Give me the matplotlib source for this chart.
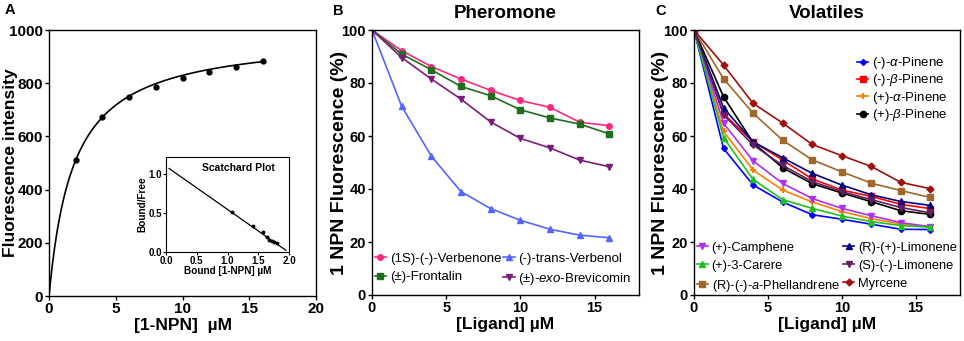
import numpy as np
import matplotlib
matplotlib.use("Agg")
import matplotlib.pyplot as plt

plt.rcParams['font.family'] = ['Liberation Sans', 'DejaVu Sans']
plt.rcParams['mathtext.fontset'] = 'custom'
plt.rcParams['mathtext.rm'] = 'Liberation Sans'
plt.rcParams['mathtext.it'] = 'Liberation Sans:italic'
plt.rcParams['mathtext.bf'] = 'Liberation Sans:bold'

# ---------------- Data ----------------
# Panel A: saturation binding
npn_conc = [2, 4, 6, 8, 10, 12, 14, 16]
npn_fluor = [511, 674, 749, 787, 818, 843, 862, 882]
fit_bmax = 983.0
fit_kd = 1.85

# Inset: Scatchard
scat_bound = [1.08, 1.41, 1.57, 1.64, 1.68, 1.72, 1.76, 1.81]
scat_bf = [0.52, 0.34, 0.26, 0.19, 0.16, 0.14, 0.13, 0.11]
scat_slope = -0.553
scat_intercept = 1.10
scat_range = [0.05, 1.95]

# Panel B / C: ligand concentrations
ligand = [0, 2, 4, 6, 8, 10, 12, 14, 16]

verbenone = [100, 92.2, 86.2, 81.5, 77.2, 73.4, 70.8, 65.2, 63.9]
frontalin = [100, 90.9, 85.0, 78.7, 75.2, 69.9, 66.8, 64.5, 60.8]
verbenol = [100, 71.2, 52.4, 39.0, 32.6, 28.2, 24.8, 22.6, 21.6]
brevicomin = [100, 89.6, 81.5, 73.9, 65.3, 59.1, 55.5, 50.9, 48.4]

a_pinene_m = [100, 55.3, 41.5, 35.1, 30.3, 28.6, 26.7, 24.8, 24.7]
b_pinene_m = [100, 68.3, 57.9, 50.9, 43.8, 39.6, 37.2, 34.2, 32.6]
a_pinene_p = [100, 61.7, 47.1, 39.6, 35.1, 31.5, 28.8, 26.8, 25.6]
b_pinene_p = [100, 74.8, 57.5, 48.0, 42.0, 38.5, 35.2, 31.8, 30.4]
camphene = [100, 64.8, 50.6, 42.1, 36.4, 32.7, 29.9, 27.3, 25.8]
carere = [100, 59.4, 43.6, 36.0, 32.7, 29.8, 27.7, 26.2, 25.6]
phellandrene = [100, 81.6, 68.6, 58.4, 51.0, 46.5, 42.2, 39.4, 36.8]
r_limonene = [100, 70.6, 57.8, 51.8, 45.9, 41.5, 37.8, 35.3, 33.8]
s_limonene = [100, 68.0, 56.6, 48.9, 42.8, 39.0, 36.0, 33.0, 31.0]
myrcene = [100, 86.8, 72.3, 64.9, 56.8, 52.6, 48.5, 42.5, 40.1]

W, H = 964, 341
fig = plt.figure(figsize=(W / 100, H / 100), dpi=100)


def px_axes(left, top, right, bottom):
    return fig.add_axes([left / W, (H - bottom) / H, (right - left) / W, (bottom - top) / H])


def style(ax, tick_size=10.5, lw=1.0):
    for s in ax.spines.values():
        s.set_linewidth(lw)
    ax.tick_params(direction='out', length=3, width=lw, labelsize=tick_size, pad=1.5)
    for lab in ax.get_xticklabels() + ax.get_yticklabels():
        lab.set_fontweight('bold')


LEG = dict(frameon=False, fontsize=9.5, handlelength=0.85, handletextpad=0.3,
           borderpad=0, borderaxespad=0)

# ---------------- Panel A ----------------
axA = px_axes(49, 30, 316, 296)
xs = np.linspace(0, 16, 300)
axA.plot(xs, fit_bmax * xs / (fit_kd + xs), color='black', lw=1.2)
axA.plot(npn_conc, npn_fluor, 'o', color='black', ms=3.5)
axA.set_xlim(0, 20)
axA.set_ylim(0, 1000)
axA.set_xticks([0, 5, 10, 15, 20])
axA.set_yticks([0, 200, 400, 600, 800, 1000])
axA.set_xlabel('[1-NPN]  µM', fontsize=12.5, fontweight='bold', labelpad=1)
axA.set_ylabel('Fluorescence intensity', fontsize=12.5, fontweight='bold')
axA.yaxis.set_label_coords(-0.117, 0.5)
style(axA, tick_size=11)

axI = px_axes(166, 157, 289, 252)
xl = np.array(scat_range)
axI.plot(xl, scat_slope * xl + scat_intercept, color='black', lw=0.9)
axI.plot(scat_bound, scat_bf, 'o', color='black', ms=1.8)
axI.set_xlim(0, 2.0)
axI.set_ylim(0, 1.22)
axI.set_xticks([0.0, 0.5, 1.0, 1.5, 2.0])
axI.set_yticks([0.0, 0.5, 1.0])
axI.xaxis.set_major_formatter(matplotlib.ticker.FormatStrFormatter('%.1f'))
axI.yaxis.set_major_formatter(matplotlib.ticker.FormatStrFormatter('%.1f'))
axI.set_xlabel('Bound [1-NPN] µM', fontsize=7.2, fontweight='bold', labelpad=0)
axI.set_ylabel('Bound/Free', fontsize=7.2, fontweight='bold', labelpad=1)
axI.text(0.59, 0.88, 'Scatchard Plot', transform=axI.transAxes, ha='center', va='center',
         fontsize=7.5, fontweight='bold')
style(axI, tick_size=7, lw=0.8)
axI.tick_params(length=2, pad=1)

# ---------------- Panel B ----------------
axB = px_axes(372, 30, 639, 295)
b_series = [
    (verbenone, '(1S)-(-)-Verbenone', '#FF2A7F', 'o', 4),
    (frontalin, '(±)-Frontalin', '#1E6E1E', 's', 4),
    (verbenol, '(-)-trans-Verbenol', '#5566FF', '^', 4),
    (brevicomin, r'(±)-$\it{exo}$-Brevicomin', '#7A1E7A', 'v', 4),
]
for y, lab, c, m, ms in b_series:
    axB.plot(ligand, y, color=c, marker=m, ms=ms, lw=1.2, label=lab)
axB.set_xlim(0, 18)
axB.set_ylim(0, 100)
axB.set_xticks([0, 5, 10, 15])
axB.set_yticks([0, 20, 40, 60, 80, 100])
axB.set_xlabel('[Ligand] µM', fontsize=12.5, fontweight='bold', labelpad=1)
axB.set_ylabel('1 NPN Fluorescence (%)', fontsize=14, fontweight='bold')
axB.yaxis.set_label_coords(-0.09, 0.5)
axB.set_title('Pheromone', fontsize=13.5, fontweight='bold', pad=9)
style(axB)
axB.legend(loc='lower left', bbox_to_anchor=(0.01, 0.03), ncol=2, columnspacing=0.15,
           labelspacing=0.45, **LEG)

# ---------------- Panel C ----------------
axC = px_axes(694, 30, 960, 295)
c_top = [
    (a_pinene_m, r'(-)-$\it{\alpha}$-Pinene', '#0000FF', 'D', 3),
    (b_pinene_m, r'(-)-$\it{\beta}$-Pinene', '#FF0000', 's', 4),
    (a_pinene_p, r'(+)-$\it{\alpha}$-Pinene', '#FF8000', '+', 4),
    (b_pinene_p, r'(+)-$\it{\beta}$-Pinene', '#000000', 'o', 4.5),
]
c_bottom = [
    (camphene, '(+)-Camphene', '#B030F0', 'v', 4),
    (carere, '(+)-3-Carere', '#20C020', '^', 4),
    (phellandrene, r'(R)-(-)-$\it{a}$-Phellandrene', '#A0672A', 's', 5),
    (r_limonene, '(R)-(+)-Limonene', '#000080', '^', 4),
    (s_limonene, '(S)-(-)-Limonene', '#602060', 'v', 4),
    (myrcene, 'Myrcene', '#A01010', 'D', 3.5),
]
top_handles = []
bottom_handles = []
for y, lab, c, m, ms in c_top:
    h, = axC.plot(ligand, y, color=c, marker=m, ms=ms, lw=1.2, mew=1.5 if m == '+' else 1, label=lab)
    top_handles.append(h)
for y, lab, c, m, ms in c_bottom:
    h, = axC.plot(ligand, y, color=c, marker=m, ms=ms, lw=1.2, label=lab)
    bottom_handles.append(h)
axC.set_xlim(0, 18)
axC.set_ylim(0, 100)
axC.set_xticks([0, 5, 10, 15])
axC.set_yticks([0, 20, 40, 60, 80, 100])
axC.set_xlabel('[Ligand] µM', fontsize=12.5, fontweight='bold', labelpad=1)
axC.set_ylabel('1 NPN Fluorescence (%)', fontsize=14, fontweight='bold')
axC.yaxis.set_label_coords(-0.094, 0.5)
axC.set_title('Volatiles', fontsize=13.5, fontweight='bold', pad=9)
style(axC)
leg1 = axC.legend(handles=top_handles, loc='upper right', bbox_to_anchor=(0.955, 0.905),
                  labelspacing=0.1, **LEG)
axC.add_artist(leg1)
axC.legend(handles=bottom_handles, loc='lower left', bbox_to_anchor=(0.01, 0.005), ncol=2,
           columnspacing=0.3, labelspacing=0.45, **{**LEG, 'fontsize': 9.3})

# Panel letters
fig.text(5 / W, 1 - 14 / H, 'A', fontsize=10.5, fontweight='bold')
fig.text(333 / W, 1 - 15 / H, 'B', fontsize=10.5, fontweight='bold')
fig.text(655 / W, 1 - 15 / H, 'C', fontsize=10.5, fontweight='bold')

fig.savefig('out.png', dpi=100)
